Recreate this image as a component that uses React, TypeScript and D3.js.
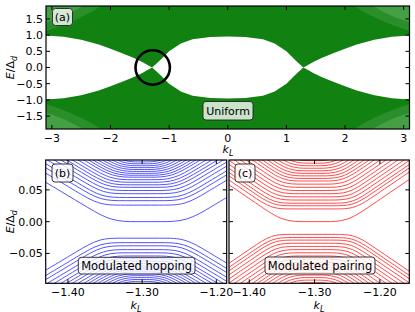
import React from "react";
import * as d3 from "d3";

type Pt = [number, number];

const FONT = "DejaVu Sans";

// (a) uniform chain: lower edge of the upper band (band gap is mirrored at E = 0)
const aK = [-3.1, -2.8, -2.5, -2.2, -2.0, -1.8, -1.6, -1.45, -1.37, -1.29, -1.2, -1.15, -1.0, -0.8, -0.6, -0.3, 0,
  0.3, 0.6, 0.8, 1.0, 1.15, 1.2, 1.29, 1.37, 1.45, 1.6, 1.8, 2.0, 2.2, 2.5, 2.8, 3.1];
const aGap = [0.99, 0.95, 0.86, 0.71, 0.58, 0.44, 0.29, 0.16, 0.08, 0, 0.15, 0.23, 0.5, 0.74, 0.87, 0.94, 0.96,
  0.94, 0.87, 0.74, 0.5, 0.23, 0.15, 0, 0.08, 0.16, 0.29, 0.44, 0.58, 0.71, 0.86, 0.95, 0.99];
// lighter (sparser) regions in the four corners
const aCornerK = [2.15, 2.3, 2.5, 2.7, 2.9, 3.1];
const aCornerE = [1.92, 1.74, 1.55, 1.39, 1.25, 1.13];
const aCorner2K = [2.45, 2.65, 2.85, 3.1];
const aCorner2E = [1.92, 1.72, 1.55, 1.4];
const aXTicks = [-3, -2, -1, 0, 1, 2, 3];
const aYTicks = [-1.5, -1, -0.5, 0, 0.5, 1, 1.5];

// (b) modulated hopping: plateau energy, and energy where each level leaves the left / right edge
const bPlateau = [0, 0.026, 0.033, 0.038, 0.044, 0.049, 0.054, 0.058, 0.062, 0.066, 0.07, 0.073, 0.076, 0.079, 0.082, 0.085, 0.088, 0.091, 0.094];
const bLeft = [0.062, 0.0764, 0.0848, 0.0912, 0.0986, 0.105, 0.1114, 0.1168, 0.1222, 0.1276, 0.133, 0.1374, 0.1418, 0.1462, 0.1506, 0.155, 0.1594, 0.1638, 0.1682];
const bRight = [0.038, 0.0652, 0.0736, 0.08, 0.0874, 0.0938, 0.1002, 0.1056, 0.111, 0.1164, 0.1218, 0.1262, 0.1306, 0.135, 0.1394, 0.1438, 0.1482, 0.1526, 0.157];

// (c) modulated pairing
const cPlateau = [0, 0.02, 0.025, 0.029, 0.034, 0.039, 0.044, 0.049, 0.054, 0.059, 0.064, 0.068, 0.072, 0.076, 0.08, 0.084, 0.088, 0.092, 0.096];
const cLeft = [0.058, 0.0655, 0.0719, 0.0773, 0.0837, 0.0901, 0.0965, 0.1029, 0.1093, 0.1157, 0.1221, 0.1275, 0.1329, 0.1383, 0.1437, 0.1491, 0.1545, 0.1599, 0.1653];
const cRight = [0.0665, 0.0781, 0.0845, 0.0899, 0.0963, 0.1027, 0.1091, 0.1155, 0.1219, 0.1283, 0.1347, 0.1401, 0.1455, 0.1509, 0.1563, 0.1617, 0.1671, 0.1725, 0.1779];

const zXTicks = [-1.4, -1.3, -1.2];
const zYTicks = [-0.05, 0, 0.05];
const SLOPE = 0.7; // side slope dE/dk of the levels

function levelPoints(p: number, eL: number, eR: number, k0: number, k1: number, rMax: number): Pt[] {
  const kl = k0 + (eL - p) / SLOPE;
  const kr = k1 - (eR - p) / SLOPE;
  const r = Math.min(rMax, (kr - kl) / 2.2);
  return [
    [k0, eL],
    [kl - r, p + SLOPE * r],
    [kl, p],
    [kl + r, p],
    [kr - r, p],
    [kr, p],
    [kr + r, p + SLOPE * r],
    [k1, eR],
  ];
}

function Axes({ xs, ys, xTicks, yTicks, xFmt, yFmt, yLabels }: any) {
  const [x0, x1] = xs.range();
  const [yb, yt] = ys.range();
  const tl = 4;
  return (
    <g fontFamily={FONT} fontSize={11} fill="black">
      {xTicks.map((t: number) => (
        <g key={"x" + t}>
          <line x1={xs(t)} x2={xs(t)} y1={yb} y2={yb - tl} stroke="black" />
          <line x1={xs(t)} x2={xs(t)} y1={yt} y2={yt + tl} stroke="black" />
          <text x={xs(t)} y={yb + 12.5} textAnchor="middle">{xFmt(t)}</text>
        </g>
      ))}
      {yTicks.map((t: number) => (
        <g key={"y" + t}>
          <line x1={x0} x2={x0 + tl} y1={ys(t)} y2={ys(t)} stroke="black" />
          <line x1={x1} x2={x1 - tl} y1={ys(t)} y2={ys(t)} stroke="black" />
          {yLabels && (
            <text x={x0 - 3} y={ys(t)} dy="0.36em" textAnchor="end">{yFmt(t)}</text>
          )}
        </g>
      ))}
      <rect x={x0} y={yt} width={x1 - x0} height={yb - yt} fill="none" stroke="black" strokeWidth={1.2} />
    </g>
  );
}

function Box({ x, y, w, h, text, size = 11, fill = "white", opacity = 0.78 }: any) {
  return (
    <g>
      <rect x={x} y={y} width={w} height={h} rx={3} fill={fill} fillOpacity={opacity} stroke="#222" strokeWidth={0.9} />
      <text x={x + w / 2} y={y + h / 2} dy="0.36em" textAnchor="middle" fontFamily={FONT} fontSize={size}>{text}</text>
    </g>
  );
}

function ELabel({ x, y }: any) {
  return (
    <text transform={`translate(${x},${y}) rotate(-90)`} textAnchor="middle" fontFamily={FONT} fontSize={11}>
      <tspan fontStyle="italic">E</tspan>/Δ<tspan fontStyle="italic" fontSize={8} dy={3}>d</tspan>
    </text>
  );
}

function KLabel({ x, y }: any) {
  return (
    <text x={x} y={y} textAnchor="middle" fontFamily={FONT} fontSize={11}>
      <tspan fontStyle="italic">k</tspan><tspan fontStyle="italic" fontSize={8} dy={3}>L</tspan>
    </text>
  );
}

function ZoomPanel({ id, xs, ys, plateau, left, right, color, yLabels }: any) {
  const [k0, k1] = xs.domain();
  const line = d3.line<Pt>().x((d) => xs(d[0])).y((d) => ys(d[1])).curve(d3.curveBasis);
  const [x0, x1] = xs.range();
  const [yb, yt] = ys.range();
  const paths: string[] = [];
  plateau.forEach((p: number, i: number) => {
    const pts = levelPoints(p, left[i], right[i], k0, k1, i === 0 ? 0.035 : 0.03);
    paths.push(line(pts) as string);
    if (i > 0 || p !== 0) paths.push(line(pts.map((d) => [d[0], -d[1]] as Pt)) as string);
  });
  return (
    <g>
      <clipPath id={id}>
        <rect x={x0} y={yt} width={x1 - x0} height={yb - yt} />
      </clipPath>
      <g clipPath={`url(#${id})`} fill="none" stroke={color} strokeWidth={0.85}>
        {paths.map((d, i) => <path key={i} d={d} />)}
      </g>
      <Axes xs={xs} ys={ys} xTicks={zXTicks} yTicks={zYTicks} xFmt={d3.format(".2f")} yFmt={d3.format(".2f")} yLabels={yLabels} />
    </g>
  );
}

export default function App() {
  const xa = d3.scaleLinear().domain([-3.1, 3.1]).range([46, 409.5]);
  const ya = d3.scaleLinear().domain([-1.9, 1.9]).range([129, 6]);
  const xb = d3.scaleLinear().domain([-1.43, -1.186]).range([45.7, 226.7]);
  const xc = d3.scaleLinear().domain([-1.431, -1.155]).range([229, 409.3]);
  const yz = d3.scaleLinear().domain([-0.097, 0.097]).range([283.3, 160]);

  const gapPts: Pt[] = aK.map((k, i) => [k, aGap[i]]);
  const upper = d3.area<Pt>().x((d) => xa(d[0])).y0(ya(2.2)).y1((d) => ya(d[1]));
  const lower = d3.area<Pt>().x((d) => xa(d[0])).y0(ya(-2.2)).y1((d) => ya(-d[1]));

  const corner = (ks: number[], es: number[], sx: number, sy: number) => {
    const pts: Pt[] = ks.map((k, i) => [sx * k, sy * es[i]]);
    pts.push([sx * 3.4, sy * es[es.length - 1]], [sx * 3.4, sy * 2.3], [sx * ks[0], sy * 2.3]);
    return d3.line<Pt>().x((d) => xa(d[0])).y((d) => ya(d[1])).curve(d3.curveLinearClosed)(pts) as string;
  };
  const signs = [[-1, 1], [1, 1], [-1, -1], [1, -1]];

  return (
    <svg width={415} height={312} style={{ position: "absolute", left: 0, top: 0, background: "white" }}>
      <clipPath id="clipA">
        <rect x={46} y={6} width={363.5} height={123} />
      </clipPath>
      <g clipPath="url(#clipA)">
        <path d={upper(gapPts) as string} fill="#118111" />
        <path d={lower(gapPts) as string} fill="#118111" />
        {signs.map(([sx, sy], i) => (
          <path key={"c" + i} d={corner(aCornerK, aCornerE, sx, sy)} fill="#2a8f2a" />
        ))}
        {signs.map(([sx, sy], i) => (
          <path key={"d" + i} d={corner(aCorner2K, aCorner2E, sx, sy)} fill="#45a045" />
        ))}
      </g>
      <circle cx={xa(-1.28)} cy={ya(0)} r={17.2} fill="none" stroke="black" strokeWidth={2.6} />
      <Axes xs={xa} ys={ya} xTicks={aXTicks} yTicks={aYTicks} xFmt={d3.format("d")} yFmt={d3.format(".1f")} yLabels />
      <Box x={52.5} y={8.5} w={20} h={17} text="(a)" />
      <Box x={203} y={101.5} w={50} h={18.5} text="Uniform" />
      <ELabel x={14} y={67.5} />
      <KLabel x={228} y={153} />

      <ZoomPanel id="clipB" xs={xb} ys={yz} plateau={bPlateau} left={bLeft} right={bRight} color="#3535ff" yLabels />
      <ZoomPanel id="clipC" xs={xc} ys={yz} plateau={cPlateau} left={cLeft} right={cRight} color="#ff2a2a" yLabels={false} />
      <Box x={52} y={164} w={21} h={18} text="(b)" />
      <Box x={78.3} y={257.3} w={116.7} h={16.7} text="Modulated hopping" size={11.5} />
      <Box x={235} y={164} w={20} h={18} text="(c)" />
      <Box x={265} y={257} w={110} h={17} text="Modulated pairing" size={11.5} />
      <ELabel x={14} y={221.7} />
      <KLabel x={136} y={308.5} />
      <KLabel x={319} y={308.5} />
    </svg>
  );
}
